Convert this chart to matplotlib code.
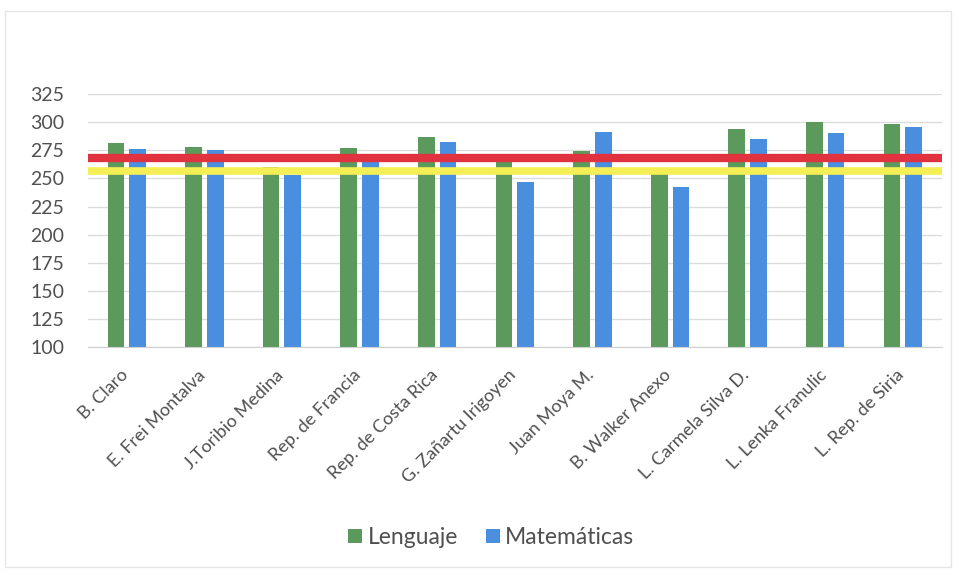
import numpy as np
import matplotlib
matplotlib.use("Agg")
import matplotlib.pyplot as plt
from matplotlib.transforms import ScaledTranslation
from matplotlib.patches import Rectangle

plt.rcParams["font.family"] = ["Lato", "DejaVu Sans"]

# ── Data ──────────────────────────────────────────────
escuelas = [
    "B. Claro", "E. Frei Montalva", "J.Toribio Medina", "Rep. de Francia",
    "Rep. de Costa Rica", "G. Zañartu Irigoyen", "Juan Moya M.",
    "B. Walker Anexo", "L. Carmela Silva D.", "L. Lenka Franulic",
    "L. Rep. de Siria",
]
lenguaje = [281, 278, 260, 277, 287, 268, 274, 255, 294, 300, 298]
matematicas = [276, 275, 253, 268, 282, 247, 291, 242, 285, 290, 296]
linea_roja = 268
linea_amarilla = 256.5

# ── Chart ─────────────────────────────────────────────
fig = plt.figure(figsize=(9.56, 5.73), dpi=100)
ax = fig.add_axes([0.092, 0.394, 0.893, 0.442])

# faint chart-area frame
fig.patches.append(Rectangle((0.005, 0.01), 0.99, 0.97, transform=fig.transFigure,
                             fill=False, edgecolor="#e6e6e6", linewidth=1))

x = np.arange(len(escuelas))
w = 0.215
ax.bar(x - 0.14, lenguaje, w, color="#5b9a5c", label="Lenguaje", zorder=2)
ax.bar(x + 0.14, matematicas, w, color="#4a8ee0", label="Matemáticas", zorder=2)

ax.axhline(linea_roja, color="#e0323f", linewidth=6, zorder=3)
ax.axhline(linea_amarilla, color="#f4ef55", linewidth=5.5, zorder=3)

ax.set_ylim(100, 325)
ax.set_xlim(-0.5, len(escuelas) - 0.5)
ax.set_yticks(range(100, 326, 25))
ax.yaxis.grid(True, color="#dcdcdc", linewidth=1, zorder=0)
for s in ["top", "right", "left"]:
    ax.spines[s].set_visible(False)
ax.spines["bottom"].set_color("#d0d0d0")
ax.tick_params(axis="both", length=0, colors="#505050")
ax.tick_params(axis="y", labelsize=14, pad=17)

ax.set_xticks(x)
ax.set_xticklabels(escuelas, rotation=45, ha="right", rotation_mode="anchor",
                   fontsize=13, color="#505050")
shift = ScaledTranslation(-0.07, -0.15, fig.dpi_scale_trans)
for lab in ax.get_xticklabels():
    lab.set_transform(lab.get_transform() + shift)

fig.legend(loc="center", bbox_to_anchor=(0.514, 0.062), ncol=2, frameon=False,
           fontsize=16.5, handlelength=0.6, handleheight=0.6, handletextpad=0.25,
           columnspacing=1.2, labelcolor="#505050")

plt.savefig("out.png", dpi=100)
